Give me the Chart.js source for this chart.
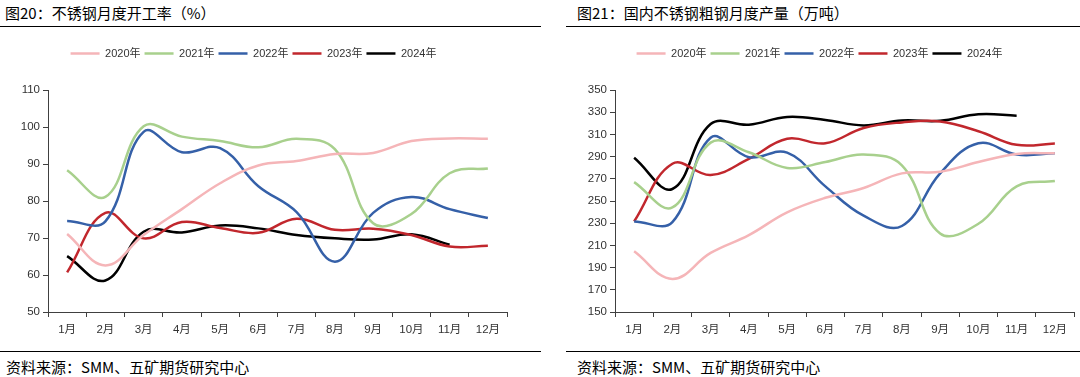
<!DOCTYPE html>
<html>
<head>
<meta charset="utf-8">
<script src="https://cdn.jsdelivr.net/npm/chart.js@4/dist/chart.umd.min.js"></script>
<style>
  body { margin: 0; width: 1080px; height: 377px; background: #fff; position: relative; overflow: hidden;
         font-family: "Liberation Sans", "Noto Sans CJK SC", sans-serif; }
  .title { position: absolute; top: 2px; font-size: 15px; color: #000; font-family: "Noto Sans CJK SC", sans-serif; }
  .src { position: absolute; top: 356px; font-size: 15px; color: #000; font-family: "Noto Sans CJK SC", sans-serif; }
  .rule { position: absolute; height: 0; border-top: 1.5px solid #000; }
  .box { position: absolute; top: 44px; height: 296px; }
</style>
</head>
<body>
<div class="title" style="left:5px">图20：不锈钢月度开工率（%）</div>
<div class="title" style="left:577px">图21：国内不锈钢粗钢月度产量（万吨）</div>
<div class="rule" style="left:0; width:541px; top:26px"></div>
<div class="rule" style="left:566px; width:514px; top:26px"></div>
<div class="box" style="left:0; width:540px"><canvas id="rate"></canvas></div>
<div class="box" style="left:565px; width:515px"><canvas id="output"></canvas></div>
<div class="rule" style="left:0; width:541px; top:351px"></div>
<div class="rule" style="left:566px; width:514px; top:351px"></div>
<div class="src" style="left:6px">资料来源：SMM、五矿期货研究中心</div>
<div class="src" style="left:577px">资料来源：SMM、五矿期货研究中心</div>
<script>
const months = ["1月", "2月", "3月", "4月", "5月", "6月", "7月", "8月", "9月", "10月", "11月", "12月"];
const years = ["2020年", "2021年", "2022年", "2023年", "2024年"];
const colors = ["#F5B5B8", "#A8D08D", "#3560A8", "#C1272D", "#000000"];

// 不锈钢月度开工率 (%)
const rate2020 = [71.1, 62.6, 70.8, 77.8, 84.8, 89.6, 90.8, 92.7, 93.0, 96.2, 96.9, 96.8];
const rate2021 = [88.3, 81.1, 100.2, 97.4, 96.2, 94.5, 96.8, 94.0, 74.0, 76.5, 87.5, 88.8];
const rate2022 = [74.6, 74.5, 98.7, 93.2, 94.3, 84.0, 77.0, 63.6, 76.8, 81.1, 77.8, 75.4];
const rate2023 = [60.7, 76.8, 69.9, 74.3, 72.7, 71.4, 75.2, 72.2, 72.5, 70.8, 67.7, 67.9];
const rate2024 = [65.1, 58.5, 71.7, 71.5, 73.4, 72.6, 70.8, 69.9, 69.6, 71.0, 68.2];

// 国内不锈钢粗钢月度产量 (万吨)
const out2020 = [204.7, 179.8, 203.2, 219.3, 239.8, 252.9, 261.7, 274.9, 276.3, 285.1, 292.4, 293.0];
const out2021 = [267.0, 244.2, 302.6, 293.9, 279.8, 285.1, 291.8, 282.2, 220.8, 229.5, 263.2, 268.1];
const out2022 = [231.6, 231.0, 307.0, 289.5, 293.6, 263.2, 236.8, 227.5, 274.9, 302.0, 291.8, 293.0];
const out2023 = [231.6, 283.6, 273.4, 288.0, 306.1, 302.0, 315.8, 320.8, 321.6, 312.9, 300.6, 301.8];
const out2024 = [288.9, 260.8, 319.3, 318.7, 325.7, 323.0, 318.1, 322.5, 322.2, 328.1, 326.9];

const tickFont = { family: "'Liberation Sans', 'Noto Sans CJK SC', sans-serif", size: 11.5 };
const axisColor = "#404040";

// legend sits higher than the plot; push the plot down under it
const legendGap = {
    id: "legendGap",
    afterInit(chart) {
        const fit = chart.legend.fit;
        chart.legend.fit = function () { fit.call(this); this.height += 21; };
    }
};

function buildChart(canvas, series, yMin, yMax, step, axisWidth, padRight) {
    return new Chart(canvas, {
        type: "line",
        data: {
            labels: months,
            datasets: series.map((data, i) => ({
                label: years[i],
                data,
                borderColor: colors[i],
                backgroundColor: colors[i],
                borderWidth: 2.5,
                tension: 0.4,
                pointRadius: 0,
                pointStyle: "line"
            }))
        },
        options: {
            responsive: true,
            maintainAspectRatio: false,
            animation: false,
            layout: { padding: { left: 0, right: padRight, top: 0, bottom: 0 } },
            plugins: {
                tooltip: { enabled: false },
                legend: {
                    position: "top",
                    labels: {
                        usePointStyle: true,
                        pointStyleWidth: 29,
                        padding: 4,
                        color: "#333",
                        font: { family: tickFont.family, size: 11 }
                    }
                }
            },
            scales: {
                x: {
                    offset: true,
                    grid: { offset: true, drawOnChartArea: false, drawTicks: true, tickLength: 5, color: axisColor },
                    border: { color: axisColor, width: 1 },
                    ticks: { color: "#333", font: tickFont, padding: 6, maxRotation: 0, autoSkip: false },
                    afterFit: scale => { scale.height = 28; }
                },
                y: {
                    min: yMin,
                    max: yMax,
                    grid: { drawOnChartArea: false, drawTicks: true, tickLength: 5, color: axisColor },
                    border: { color: axisColor, width: 1 },
                    ticks: { stepSize: step, color: "#333", font: tickFont, padding: 3 },
                    afterFit: scale => { scale.width = axisWidth; }
                }
            }
        },
        plugins: [legendGap]
    });
}

buildChart(document.getElementById("rate"),
    [rate2020, rate2021, rate2022, rate2023, rate2024], 50, 110, 10, 48, 33);
buildChart(document.getElementById("output"),
    [out2020, out2021, out2022, out2023, out2024], 150, 350, 20, 50, 6);
</script>
</body>
</html>
